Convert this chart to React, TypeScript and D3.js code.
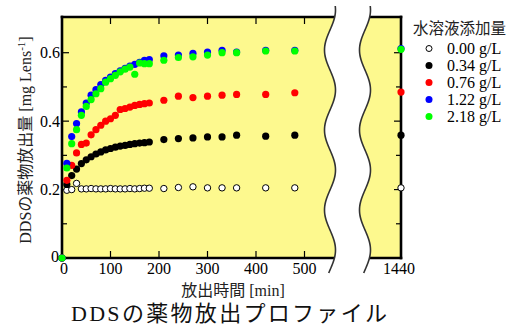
import React, { useEffect, useRef } from 'react';
import * as d3 from 'd3';

// release time [min]
const times = [0, 10, 20, 30, 40, 50, 60, 70, 80, 90, 100, 110, 120, 130, 140, 150, 160, 170, 180,
  210, 240, 270, 300, 330, 360, 420, 480, 1440];

// drug release [mg Lens-1] per concentration
const s000 = [0, 0.198, 0.2, 0.218, 0.202, 0.202, 0.203, 0.202, 0.202, 0.202, 0.203, 0.202, 0.202, 0.202, 0.203,
  0.202, 0.203, 0.204, 0.204, 0.203, 0.206, 0.208, 0.205, 0.205, 0.205, 0.205, 0.205, 0.205];
const s034 = [0, 0.215, 0.241, 0.26, 0.276, 0.287, 0.296, 0.304, 0.31, 0.316, 0.32, 0.324, 0.327, 0.329, 0.332,
  0.334, 0.336, 0.337, 0.339, 0.346, 0.349, 0.351, 0.354, 0.354, 0.359, 0.356, 0.359, 0.359];
const s076 = [0, 0.227, 0.271, 0.307, 0.332, 0.336, 0.36, 0.375, 0.388, 0.4, 0.407, 0.417, 0.434, 0.437, 0.441,
  0.446, 0.449, 0.451, 0.453, 0.461, 0.473, 0.469, 0.473, 0.476, 0.478, 0.478, 0.483, 0.485];
const s122 = [0, 0.277, 0.355, 0.393, 0.427, 0.453, 0.476, 0.492, 0.507, 0.519, 0.529, 0.539, 0.547, 0.554, 0.561,
  0.566, 0.572, 0.578, 0.58, 0.591, 0.593, 0.598, 0.602, 0.607, 0.602, 0.607, 0.607, 0.612];
const s218 = [0, 0.263, 0.334, 0.375, 0.417, 0.443, 0.463, 0.48, 0.495, 0.514, 0.524, 0.534, 0.544, 0.552, 0.558,
  0.537, 0.57, 0.568, 0.568, 0.578, 0.586, 0.588, 0.593, 0.6, 0.6, 0.605, 0.605, 0.61];

const seriesLabels = ['0.00 g/L', '0.34 g/L', '0.76 g/L', '1.22 g/L', '2.18 g/L'];
const seriesValues = [s000, s034, s076, s122, s218];
const seriesColors = ['#ffffff', '#000000', '#ff0000', '#0000ff', '#00ff00'];

const xTicks = [0, 100, 200, 300, 400, 500];
const yTicks = [0, 0.2, 0.4, 0.6];
const yMinor = [0.1, 0.3, 0.5];

const SERIF = "'Liberation Serif', 'Times New Roman', 'Noto Sans CJK JP', serif";
const SANS = "'Noto Sans CJK JP', sans-serif";

const App = () => {
  const ref = useRef<SVGSVGElement>(null);

  useEffect(() => {
    const svg = d3.select(ref.current);
    svg.selectAll('*').remove();

    const left = 62, right = 401, top = 17, bottom = 258;
    const x1 = d3.scaleLinear().domain([0, 500]).range([left, 304.5]);
    const x2 = d3.scaleLinear().domain([1366, 1440]).range([365, right]);
    const xOf = (t: number) => (t > 1000 ? x2(t) : x1(t));
    const y = d3.scaleLinear().domain([0, 0.7]).range([bottom, 18.5]);

    // plot area
    svg.append('rect')
      .attr('x', left).attr('y', top)
      .attr('width', right - left).attr('height', bottom - top)
      .attr('fill', '#fdf98e');

    const frame = svg.append('g').attr('stroke', '#000').attr('stroke-width', 2.6).attr('stroke-linecap', 'square');
    frame.append('line').attr('x1', left).attr('x2', left).attr('y1', top).attr('y2', bottom);
    frame.append('line').attr('x1', right).attr('x2', right).attr('y1', top).attr('y2', bottom);
    frame.append('line').attr('x1', left).attr('x2', right).attr('y1', top).attr('y2', top);
    frame.append('line').attr('x1', left).attr('x2', right).attr('y1', bottom).attr('y2', bottom);

    // axis break
    const ys = d3.range(6, 274, 1);
    const wave = (cx: number) => ys.map(v => [cx + 5.5 * Math.cos((2 * Math.PI * (v - 10)) / 80), v] as [number, number]);
    const w1 = wave(330);
    const w2 = wave(365);
    svg.append('path')
      .attr('d', d3.line()([...w1, ...w2.slice().reverse()]) + 'Z')
      .attr('fill', '#fff');
    [w1, w2].forEach(w => {
      svg.append('path').attr('d', d3.line().curve(d3.curveBasis)(w))
        .attr('fill', 'none').attr('stroke', '#333').attr('stroke-width', 1.6);
    });

    // ticks
    const ticks = svg.append('g').attr('stroke', '#000').attr('stroke-width', 1.2);
    xTicks.filter(t => t > 0).forEach(t => {
      ticks.append('line').attr('x1', x1(t)).attr('x2', x1(t)).attr('y1', bottom).attr('y2', bottom - 7);
      ticks.append('line').attr('x1', x1(t)).attr('x2', x1(t)).attr('y1', top).attr('y2', top + 7);
    });
    yTicks.filter(v => v > 0).concat(yMinor).forEach(v => {
      const len = yMinor.includes(v) ? 5 : 7;
      ticks.append('line').attr('x1', left).attr('x2', left + len).attr('y1', y(v)).attr('y2', y(v));
      ticks.append('line').attr('x1', right).attr('x2', right - len).attr('y1', y(v)).attr('y2', y(v));
    });

    // tick labels
    xTicks.forEach(t => {
      svg.append('text').attr('x', x1(t) + (t === 0 ? 2 : 0)).attr('y', 274).attr('text-anchor', 'middle')
        .style('font-family', SERIF).style('font-size', '16px').text(t);
    });
    svg.append('text').attr('x', 399).attr('y', 274).attr('text-anchor', 'middle')
      .style('font-family', SERIF).style('font-size', '16px').text('1440');
    yTicks.forEach(v => {
      svg.append('text').attr('x', v === 0 ? 59 : 60).attr('y', y(v) - (v === 0 ? 2 : 0)).attr('dy', '0.35em')
        .attr('text-anchor', 'end')
        .style('font-family', SERIF).style('font-size', '16px').text(v === 0 ? '0' : v.toFixed(1));
    });

    // points
    seriesValues.forEach((vals, i) => {
      svg.append('g').selectAll('circle')
        .data(vals)
        .join('circle')
        .attr('cx', (_, j) => xOf(times[j]))
        .attr('cy', d => y(d))
        .attr('r', i === 0 ? 3.2 : 3.6)
        .attr('fill', seriesColors[i])
        .attr('stroke', i === 0 ? '#000' : 'none')
        .attr('stroke-width', 1);
    });

    // axis titles
    svg.append('text').attr('x', 233).attr('y', 296).attr('text-anchor', 'middle')
      .style('font-family', SERIF).style('font-size', '16px').attr('fill', '#222').text('放出時間 [min]');

    const yt = svg.append('text').attr('transform', 'translate(31,140) rotate(-90)').attr('text-anchor', 'middle')
      .style('font-family', SERIF).style('font-size', '16px').attr('fill', '#222');
    yt.append('tspan').text('DDSの薬物放出量 [mg Lens');
    yt.append('tspan').attr('dy', -6).style('font-size', '11px').text('-1');
    yt.append('tspan').attr('dy', 6).text(']');

    // legend
    svg.append('text').attr('x', 413).attr('y', 34)
      .style('font-family', SANS).style('font-size', '15.5px').attr('fill', '#222').text('水溶液添加量');
    seriesLabels.forEach((lab, i) => {
      const ly = 48.5 + i * 17;
      svg.append('circle').attr('cx', 429).attr('cy', ly).attr('r', i === 0 ? 3 : 3.5)
        .attr('fill', seriesColors[i]).attr('stroke', i === 0 ? '#000' : 'none').attr('stroke-width', 1);
      svg.append('text').attr('x', 447).attr('y', ly + 5.5)
        .style('font-family', SERIF).style('font-size', '16px').text(lab);
    });

    // title
    svg.append('text').attr('x', 229).attr('y', 321).attr('text-anchor', 'middle')
      .attr('textLength', 316).attr('lengthAdjust', 'spacing')
      .style('font-family', SERIF).style('font-size', '22px').attr('fill', '#111')
      .text('DDSの薬物放出プロファイル');
  }, []);

  return (
    <svg ref={ref} width={531} height={329}
      style={{ position: 'absolute', left: 0, top: 0, background: '#fff' }} />
  );
};

export default App;
